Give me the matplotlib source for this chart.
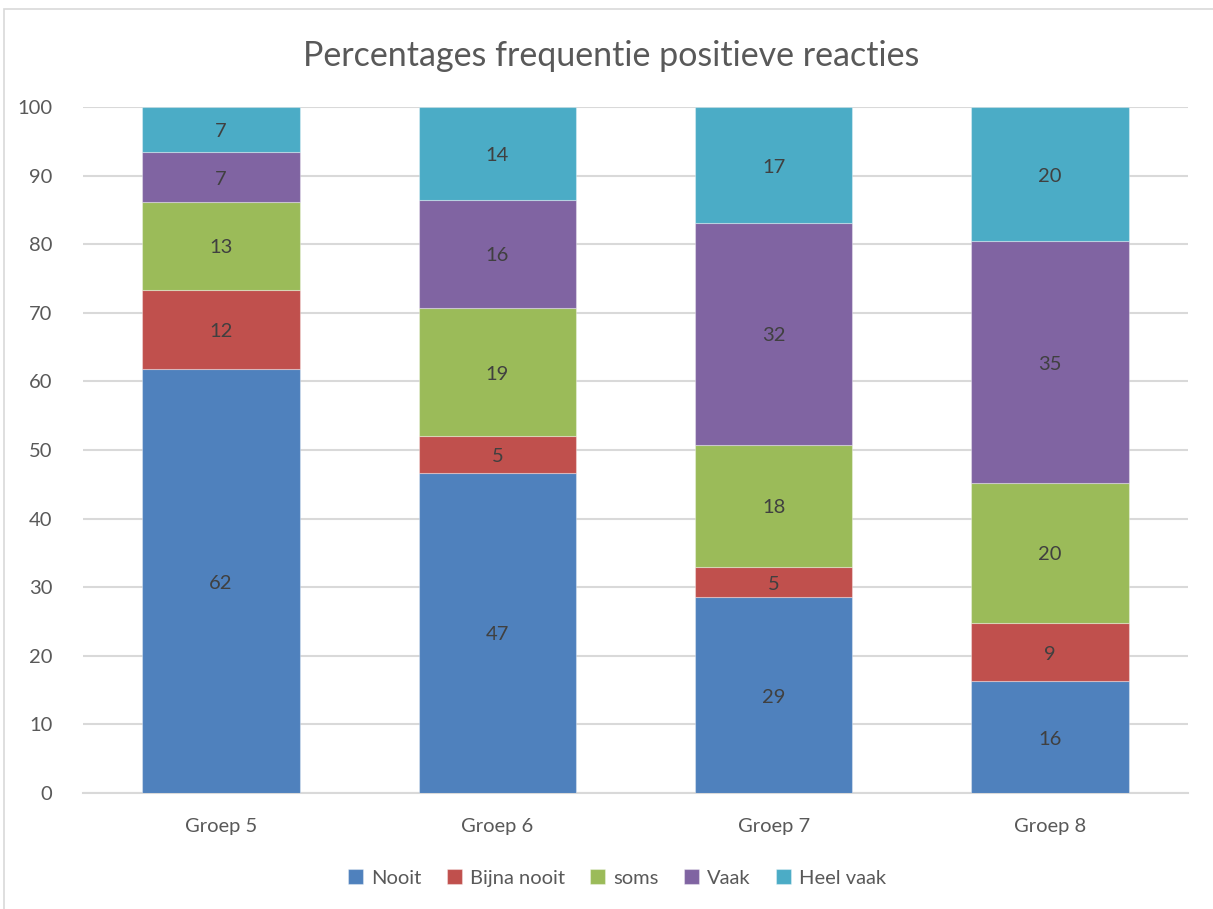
import matplotlib
matplotlib.use("Agg")
import matplotlib.pyplot as plt
from matplotlib.patches import Rectangle
import numpy as np

categories = ["Groep 5", "Groep 6", "Groep 7", "Groep 8"]
series_names = ["Nooit", "Bijna nooit", "soms", "Vaak", "Heel vaak"]
nooit = [61.8, 46.7, 28.5, 16.3]
bijna_nooit = [11.5, 5.3, 4.5, 8.5]
soms = [12.9, 18.7, 17.8, 20.4]
vaak = [7.2, 15.8, 32.3, 35.2]
heel_vaak = [6.6, 13.5, 16.9, 19.6]
title = "Percentages frequentie positieve reacties"
yticks = [0, 10, 20, 30, 40, 50, 60, 70, 80, 90, 100]

colors = ["#4F81BD", "#C0504D", "#9BBB59", "#8064A2", "#4BACC6"]
text_color = "#595959"
label_color = "#404040"

plt.rcParams['font.family'] = ['Lato', 'DejaVu Sans']

fig = plt.figure(figsize=(12.13, 9.09), dpi=100)
ax = fig.add_axes([83/1213, 1-793/909, (1188-83)/1213, (793-107)/909])

# chart border
fig.patches.append(Rectangle((4/1213, -0.01), 1.2, 1.01 - 9/909, transform=fig.transFigure,
                             fill=False, edgecolor="#D9D9D9", linewidth=1.2))

data = [nooit, bijna_nooit, soms, vaak, heel_vaak]
x = np.arange(len(categories))
bottom = np.zeros(len(categories))
for name, vals, c in zip(series_names, data, colors):
    vals = np.array(vals, dtype=float)
    ax.bar(x, vals, width=0.57, bottom=bottom, color=c, label=name,
           edgecolor=(1, 1, 1, 0.35), linewidth=0.8, zorder=3)
    for xi, b, v in zip(x, bottom, vals):
        ax.text(xi, b + v/2 - 0.3, f"{int(np.floor(v + 0.5 + 1e-9))}",
                ha="center", va="center", fontsize=14.5, color=label_color, zorder=4)
    bottom += vals

ax.set_xlim(-0.5, len(categories) - 0.5)
ax.set_ylim(0, 100)
ax.set_yticks(yticks)
ax.set_yticklabels([str(t) for t in yticks])
ax.set_xticks(x)
ax.set_xticklabels(categories)
ax.tick_params(axis="both", length=0, labelsize=14.5, labelcolor=text_color)
ax.tick_params(axis="y", pad=22)
ax.tick_params(axis="x", pad=18)
ax.grid(axis="y", color="#D9D9D9", linewidth=1.5, zorder=0)
for s in ["top", "right", "left"]:
    ax.spines[s].set_visible(False)
ax.spines["bottom"].set_color("#D9D9D9")
ax.spines["bottom"].set_linewidth(1.5)

fig.text(611/1213, 1-56/909, title, ha="center", va="center", fontsize=24.5, color=text_color)

fig.legend(loc="center", bbox_to_anchor=(617/1213, 1-878/909), ncol=5, frameon=False,
           fontsize=14.5, handlelength=0.75, handleheight=0.75, handletextpad=0.4,
           columnspacing=1.25, labelcolor=text_color)

fig.savefig("out.png", dpi=100)
